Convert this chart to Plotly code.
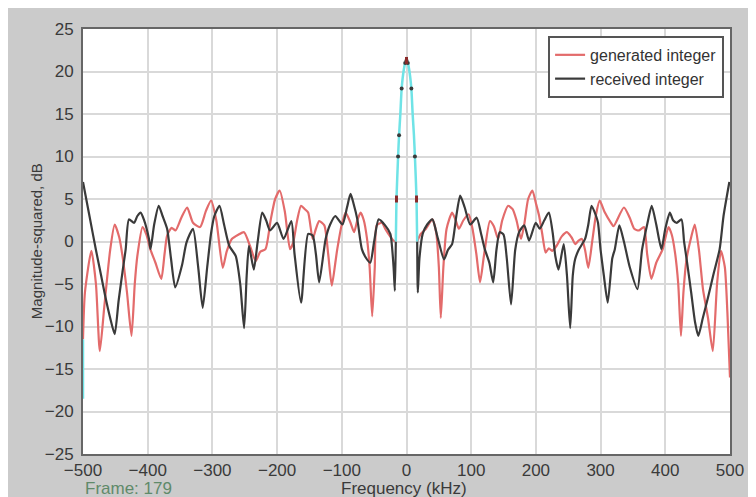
import plotly.graph_objects as go

# ---- data ----
# generated integer (red), left and right of the main lobe
red_left_x = [-500, -497, -487, -480, -474, -467, -458, -451, -444, -439, -432, -425, -420, -416, -408, -402,
              -396, -388, -379, -374, -370, -363, -357, -348, -339, -330, -319, -310, -302, -294, -284, -278,
              -270, -260, -251, -242, -233, -226, -218, -210, -203, -196, -188, -180, -175, -169, -163, -157,
              -152, -145, -140, -135, -127, -121, -115.5, -110, -107, -100, -94, -87, -81, -76, -71, -66, -61,
              -57, -53, -49, -46, -38, -33, -28, -20, -16.5]
red_left_y = [-11.5, -6, -1.1, -5, -12.9, -7.6, -1, 2.0, 0.5, -1.7, -6, -11.1, -5, -1.7, 1.7, 0.8,
              -0.9, -2.5, -4.4, -1.5, 0.7, 1.6, 1.3, 2.8, 4.0, 2.2, 1.7, 3.6, 4.8, 2.5, -3.1, -1.2,
              0.3, 0.8, 1.1, -0.5, -2.3, -1.2, -0.9, 2.5, 5.0, 6.0, 3.5, -0.9, -0.1, 2.5, 4.2, 3.8,
              3.4, 0.3, 1.5, 2.4, 1.9, -1.5, -5.2, -2.5, -0.9, 2.0, 3.4, 2.3, 1.1, 2.5, 3.4, 2.5, 0.3,
              -3, -8.8, -3, 1.9, 2.2, 1.5, 0.9, 0.1, 0]
red_right_x = [16.5, 22, 30, 40, 46, 50, 53, 57, 62, 70.5, 76, 81, 88, 96, 102, 108, 113.7, 120, 129, 135, 141.6,
               148, 157, 164, 170, 177, 182, 188, 194.6, 200, 205, 210, 215, 220, 225, 232, 240, 248, 255, 261,
               266, 271, 276, 281, 287, 293, 298.6, 306, 316, 320, 336, 345, 352, 359, 367, 372, 378.5, 386, 396,
               404.9, 410, 415, 420, 424.2, 428, 432.8, 440, 445.5, 452, 458.2, 466, 473.4, 480, 486, 492, 496, 500]
red_right_y = [0, 0.9, 1.5, 2.6, 1.0, -3, -9.0, -3, 1.5, 3.4, 2.5, 1.5, 2.5, 3.2, 1.5, -1.5, -4.8, -1.5, 2.4, 1.8, 0.3,
               2.5, 4.2, 3.8, 2.5, 0.3, 2.0, 5.0, 6.0, 4.5, 3.0, 0.8, -1.3, -0.8, -1.1, -0.5, 0.6, 1.1, 0.5, -0.3,
               0.1, 0.3, -1, -3.1, 0, 3.2, 4.8, 3.5, 2.2, 1.8, 4.0, 2.8, 1.5, 1.3, 1.7, -1.5, -4.4, -2.5, -0.9,
               1.7, 0.8, -1.3, -5, -11.1, -6, -2.1, 0.5, 2.0, -1, -5.6, -9, -12.9, -5, -1.1, -3, -8.4, -16]

# received integer (black)
black_left_x = [-500, -490, -480, -472, -466, -458, -451, -445, -439, -434, -429, -421, -416, -411, -406, -398,
                -395.6, -390, -383, -377, -370, -364, -357.5, -347, -340, -330, -322, -315, -308, -302, -297,
                -289, -282, -274, -264, -257, -251, -247, -243.5, -236, -230, -223, -217, -211, -200, -190, -178,
                -173, -163, -152, -145, -140, -135, -125, -118, -110, -99, -92, -86.5, -82, -76, -69, -62, -56,
                -50, -43, -33, -25, -20, -18, -16.5]
black_left_y = [7.0, 3, -1, -4, -6.3, -9, -10.9, -7, -3.6, -0.9, 2.6, 2.2, 3.0, 3.4, 2.6, 0.3,
                -0.9, 2, 4.2, 3, 1.5, -2, -5.4, -2.8, -0.1, 1.5, -3, -7.8, -3, 1, 3.0,
                4.2, 2, -0.5, -1.7, -5, -10.2, -4, -0.5, -3.3, 0, 3.4, 2.5, 1.3, 2.2, 0.3, 2.4,
                -1.5, -7.2, 0.9, 0.7, -1.5, -4.8, 0.3, 2, 3.0, 2.0, 4, 5.6, 4.5, 2.6, -0.9, -2, -2.5,
                0, 2.6, 1.9, 0.9, -3, -5.8, 0]
black_right_x = [16.5, 17.5, 20, 25, 32, 40, 48, 58, 64, 70.5, 77, 83, 90, 98.5, 108.5, 115, 121, 128, 134, 139, 144,
                 150, 155, 161.6, 168, 174, 182, 189.5, 199.7, 206, 213, 220, 226, 230, 235, 243, 248, 253, 257,
                 260.6, 266, 276, 281, 286, 293, 296, 300, 305, 311, 318, 322, 329, 336, 345, 357, 364, 372, 379,
                 386, 394, 400, 407, 412, 417.6, 425, 429, 433, 440, 446, 451, 458, 466, 474, 484, 490, 499]
black_right_y = [0, -6.0, -2, 0.9, 2, 2.6, 0.5, -2.1, -1, -0.3, 3, 5.4, 4, 2.0, 2.8, 1, -0.9, -2.5, -4.8, -1, 1.1,
                 0.8, -2, -7.4, -1, 1.1, 1.9, 0.1, 2.2, 1.5, 2.5, 3.4, 1, -1.7, -3.3, -0.3, -4, -10.2, -4,
                 -2.1, -1, 0.3, 2, 4.2, 3, 2.2, -1, -4, -7.2, -2, -0.9, 1.9, 0, -3, -5.6, -1, 2, 4.2,
                 2, -0.9, 1.5, 3.4, 2.5, 2.2, 2.6, 0, -2.1, -6, -9.5, -11.1, -9, -6.6, -4, -0.9, 3, 7.0]

# main lobe around 0 kHz (drawn in cyan in the reference)
lobe_x = [-16.5, -15.5, -13, -11.5, -9.5, -7.5, -4, -2, 0, 2, 4, 7.5, 9.5, 11.5, 13, 15.5, 16.5]
lobe_y = [0, 5, 10, 12.5, 15, 18, 20.3, 21, 21.3, 21, 20.3, 18, 15, 12.5, 10, 5, 0]
lobe_dot_idx = [2, 3, 5, 7, 8, 9, 11, 14]
lobe_red_idx = [1, 8, 15]

# cyan tail at the left edge
edge_x = [-500, -500]
edge_y = [-11.5, -18.5]

x_ticks = [-500, -400, -300, -200, -100, 0, 100, 200, 300, 400, 500]
y_ticks = [-25, -20, -15, -10, -5, 0, 5, 10, 15, 20, 25]

RED = "#e36b6b"
BLACK = "#3a3a3a"
CYAN = "#6fe3e6"
FONT = "Liberation Sans, Arial, sans-serif"

fig = go.Figure()
fig.add_trace(go.Scatter(x=red_left_x + [None] + red_right_x, y=red_left_y + [None] + red_right_y,
                         mode="lines", name="generated integer", connectgaps=False,
                         line=dict(color=RED, width=2.2, shape="spline", smoothing=0.6)))
fig.add_trace(go.Scatter(x=black_left_x + [None] + black_right_x, y=black_left_y + [None] + black_right_y,
                         mode="lines", name="received integer", connectgaps=False,
                         line=dict(color=BLACK, width=2.2, shape="spline", smoothing=0.6)))
fig.add_trace(go.Scatter(x=lobe_x, y=lobe_y, mode="lines", showlegend=False,
                         line=dict(color=CYAN, width=2.5, shape="spline", smoothing=0.5)))
fig.add_trace(go.Scatter(x=edge_x, y=edge_y, mode="lines", showlegend=False,
                         line=dict(color=CYAN, width=2.5)))
fig.add_trace(go.Scatter(x=[lobe_x[i] for i in lobe_dot_idx], y=[lobe_y[i] for i in lobe_dot_idx],
                         mode="markers", showlegend=False,
                         marker=dict(color=BLACK, size=4)))
fig.add_trace(go.Scatter(x=[lobe_x[i] for i in lobe_red_idx], y=[lobe_y[i] for i in lobe_red_idx],
                         mode="markers", showlegend=False,
                         marker=dict(color="#8a2a2a", size=5, symbol="line-ns",
                                     line=dict(width=3, color="#8a2a2a"))))

# page body has an 8px margin; figure sits at (8, 8)
W, H = 748, 489
L, R, T, B = 75, 17, 17, 43
pw, ph = W - L - R, H - T - B

def px_x(x):
    return (x - L) / pw

def px_y(y):
    return (H - B - y) / ph

fig.update_layout(
    width=W, height=H,
    margin=dict(l=L, r=R, t=T, b=B, pad=0),
    paper_bgcolor="#cbcbcb",
    plot_bgcolor="white",
    font=dict(family=FONT, size=17, color="#333333"),
    showlegend=True,
    legend=dict(x=px_x(725), xanchor="right", y=px_y(24), yanchor="top",
                bgcolor="white", bordercolor="#555555", borderwidth=2,
                font=dict(family=FONT, size=16, color="#333333"),
                tracegroupgap=0, itemwidth=30),
    xaxis=dict(range=[-500, 500], tickmode="array", tickvals=x_ticks,
               showgrid=True, gridcolor="#d9d9d9", gridwidth=1.5, zeroline=False,
               showline=True, linecolor="#666666", linewidth=2, mirror=True,
               ticks="", tickfont=dict(family=FONT, size=17, color="#3a3a3a")),
    yaxis=dict(range=[-25, 25], tickmode="array", tickvals=y_ticks,
               showgrid=True, gridcolor="#d9d9d9", gridwidth=1.5, zeroline=False,
               showline=True, linecolor="#666666", linewidth=2, mirror=True,
               ticks="outside", ticklen=4, tickcolor="rgba(0,0,0,0)",
               tickfont=dict(family=FONT, size=17, color="#3a3a3a")),
    annotations=[
        dict(text="Frequency (kHz)", xref="paper", yref="paper",
             x=px_x(400), y=px_y(481), xanchor="center", yanchor="middle",
             showarrow=False, font=dict(family=FONT, size=17, color="#3a3a3a")),
        dict(text="Magnitude-squared, dB", xref="paper", yref="paper",
             x=px_x(28), y=0.5, xanchor="center", yanchor="middle", textangle=-90,
             showarrow=False, font=dict(family=FONT, size=15, color="#3a3a3a")),
        dict(text="Frame: 179", xref="paper", yref="paper",
             x=0, y=px_y(481), xanchor="left", yanchor="middle",
             showarrow=False, font=dict(family=FONT, size=17, color="#5f8a6a")),
    ],
)

fig.write_html("out.html")
